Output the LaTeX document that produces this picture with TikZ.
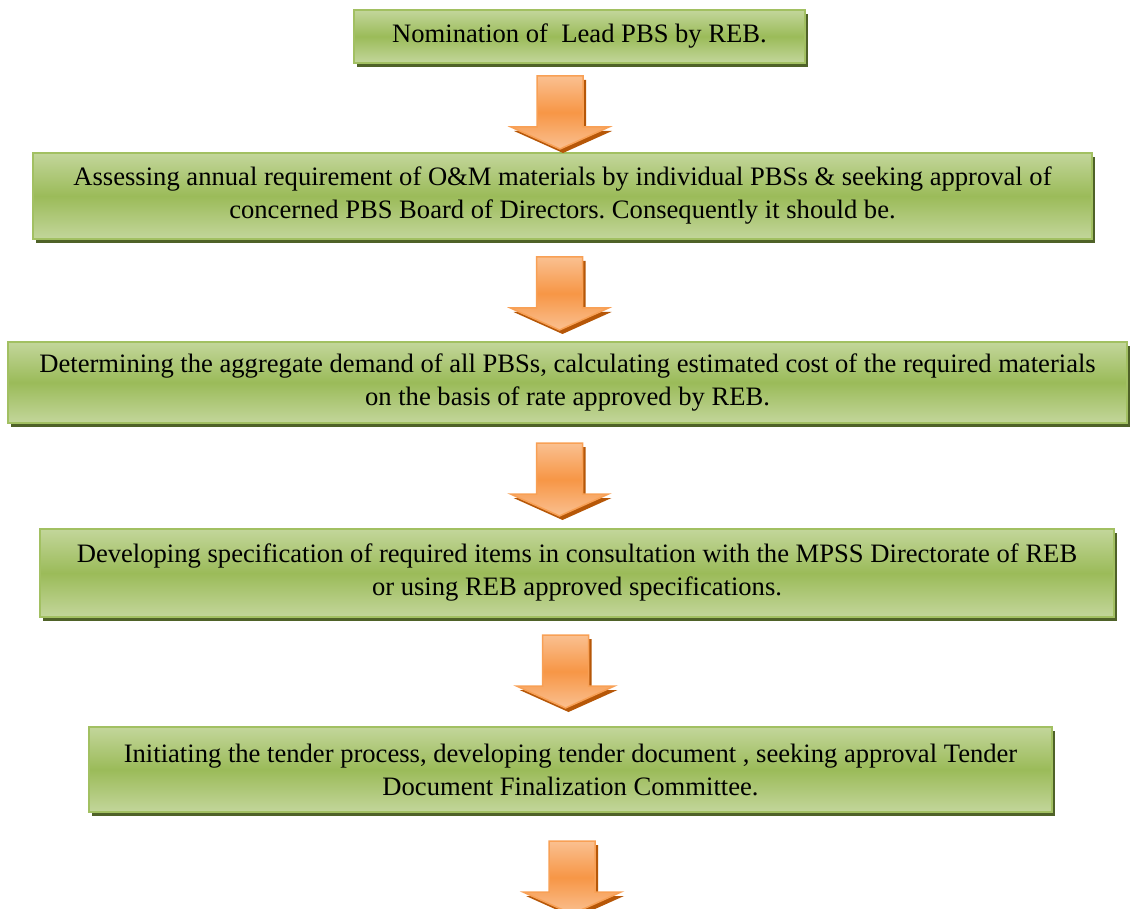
\documentclass[tikz,border=0pt]{standalone}
\usepackage{fontspec}
\setmainfont{Liberation Serif}
\usetikzlibrary{shadows}
\frenchspacing
\definecolor{gLight}{HTML}{C3D69B}
\definecolor{gMid}{HTML}{9BBB59}
\definecolor{gEdge}{HTML}{A2C062}
\definecolor{gShadow}{HTML}{4F6228}
\definecolor{oLight}{HTML}{FAC090}
\definecolor{oMid}{HTML}{F79646}
\definecolor{oEdge}{HTML}{F8A055}
\definecolor{oShadow}{HTML}{B65708}
\tikzset{
  stepbox/.style={draw=gEdge, line width=2pt, top color=gLight, bottom color=gLight,
    middle color=gMid, inner sep=0pt, align=center,
    font=\fontsize{26.6}{33}\selectfont,
    drop shadow={shadow xshift=3pt, shadow yshift=-4pt, fill=gShadow, opacity=1}},
  arrowbody/.style={draw=oEdge, line width=1.5pt, top color=oLight,
    bottom color=oLight, middle color=oMid},
  arrowshadow/.style={fill=oShadow},
}
\newcommand{\arrowpath}{(-23,0) -- (23,0) -- (23,51) -- (49,51) -- (0,73) -- (-49,51) -- (-23,51) -- cycle}
\newcommand{\blockarrow}[3]{%
  \coordinate (#1) at (#2,#3);
  \begin{scope}[shift={(#1)}]
    \fill[arrowshadow, shift={(3,4)}] \arrowpath;
    \path[arrowbody] \arrowpath;
  \end{scope}}
\begin{document}
\begin{tikzpicture}[x=1pt,y=-1pt]
\useasboundingbox (0,0) rectangle (1130,909);
\node[stepbox, minimum width=451pt, minimum height=53pt] (b1) at (579.5,36.5)
  {Nomination of\ \ Lead PBS by REB.};
\node[stepbox, minimum width=1059pt, minimum height=86pt] (b2) at (562.5,196)
  {Assessing annual requirement of O\&M materials by individual PBSs \& seeking approval of\\
   concerned PBS Board of Directors. Consequently it should be.};
\node[stepbox, minimum width=1119pt, minimum height=81pt] (b3) at (567.5,382.5)
  {Determining the aggregate demand of all PBSs, calculating estimated cost of the required materials\\
   on the basis of rate approved by REB.};
\node[stepbox, minimum width=1074pt, minimum height=88pt] (b4) at (577,573)
  {Developing specification of required items in consultation with the MPSS Directorate of REB\\
   or using REB approved specifications.};
\node[stepbox, minimum width=963pt, minimum height=85pt] (b5) at (570.5,769.5)
  {Initiating the tender process, developing tender document , seeking approval Tender\\
   Document Finalization Committee.};
\blockarrow{a1}{560}{76}
\blockarrow{a2}{559.5}{257}
\blockarrow{a3}{559.5}{443}
\blockarrow{a4}{565.5}{635}
\blockarrow{a5}{572}{841}
\end{tikzpicture}
\end{document}
